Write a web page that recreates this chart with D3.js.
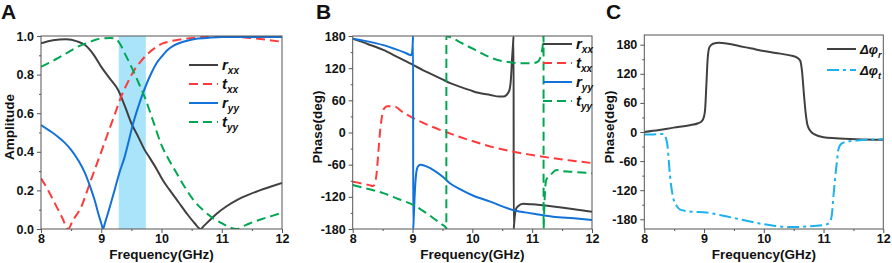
<!DOCTYPE html>
<html><head><meta charset="utf-8">
<script src="https://cdn.jsdelivr.net/npm/d3@7"></script>
<style>
body{margin:0;background:#fff}
svg{display:block}
text{font-family:"Liberation Sans",Arial,sans-serif;font-weight:bold;fill:#111}
</style>
</head><body>
<svg id="chart" width="892" height="263"></svg>
<script>
// ---------- data ----------
const freqTicks = [8, 9, 10, 11, 12];
const freqMinor = [8.5, 9.5, 10.5, 11.5];
const ampTicks = [0, 0.2, 0.4, 0.6, 0.8, 1.0];
const ampMinor = [0.1, 0.3, 0.5, 0.7, 0.9];
const phaseTicks = [-180, -120, -60, 0, 60, 120, 180];
const phaseMinor = [-150, -90, -30, 30, 90, 150];
const shadeBand = [9.29, 9.74];

// Panel A amplitudes [GHz, amplitude]
const ampRxx = [[8,0.962],[8.2,0.978],[8.42,0.983],[8.6,0.972],[8.73,0.953],[8.87,0.905],[9.0,0.84],[9.14,0.78],[9.28,0.72],[9.4,0.63],[9.5,0.548],[9.61,0.48],[9.72,0.41],[9.81,0.366],[9.92,0.31],[10.02,0.254],[10.14,0.20],[10.28,0.14],[10.42,0.08],[10.55,0.03],[10.65,0.0],[10.7,0.015],[10.8,0.045],[10.92,0.08],[11.08,0.118],[11.25,0.15],[11.45,0.178],[11.63,0.2],[11.82,0.22],[12,0.238]];
const ampTxx = [[8,0.263],[8.12,0.2],[8.23,0.133],[8.35,0.06],[8.45,0.0],[8.53,0.045],[8.67,0.116],[8.78,0.21],[8.89,0.306],[9.0,0.40],[9.11,0.496],[9.22,0.59],[9.33,0.685],[9.44,0.76],[9.55,0.824],[9.66,0.87],[9.78,0.91],[9.9,0.94],[10.02,0.962],[10.14,0.972],[10.3,0.982],[10.53,0.99],[10.75,0.997],[10.92,1.0],[11.2,0.997],[11.47,0.99],[11.75,0.98],[12,0.97]];
const ampRyy = [[8,0.539],[8.14,0.51],[8.28,0.478],[8.4,0.445],[8.5,0.41],[8.62,0.355],[8.73,0.29],[8.81,0.225],[8.89,0.15],[8.96,0.07],[9.0,0.03],[9.03,0.0],[9.06,0.03],[9.1,0.07],[9.22,0.20],[9.3,0.29],[9.39,0.375],[9.46,0.46],[9.53,0.548],[9.6,0.62],[9.67,0.685],[9.75,0.75],[9.83,0.807],[9.92,0.86],[10.02,0.90],[10.09,0.925],[10.2,0.95],[10.36,0.97],[10.55,0.985],[10.75,0.99],[11,0.995],[11.5,0.995],[12,0.995]];
const ampTyy = [[8,0.84],[8.14,0.862],[8.28,0.885],[8.42,0.91],[8.56,0.936],[8.67,0.953],[8.78,0.965],[8.92,0.982],[9.06,0.988],[9.15,0.99],[9.25,0.982],[9.32,0.955],[9.39,0.91],[9.47,0.86],[9.55,0.807],[9.63,0.75],[9.72,0.685],[9.86,0.56],[10.0,0.435],[10.12,0.36],[10.25,0.29],[10.39,0.215],[10.53,0.15],[10.7,0.095],[10.86,0.055],[11.0,0.03],[11.12,0.01],[11.25,0.0],[11.36,0.015],[11.47,0.03],[11.7,0.055],[11.97,0.081],[12,0.084]];

// Panel B phases [GHz, deg]
const phRxx = [[8,175],[8.25,165],[8.51,154],[8.76,140],[9.01,126],[9.18,116],[9.35,107],[9.5,99],[9.63,92],[9.8,85],[9.96,79],[10.1,74],[10.3,70],[10.45,67],[10.52,67],[10.57,70],[10.62,79],[10.645,100],[10.665,140],[10.68,165],[10.69,180],[10.691,-180],[10.7,-168],[10.71,-155],[10.73,-143],[10.76,-138],[10.85,-133],[11.0,-134],[11.35,-138],[11.7,-143],[12,-148]];
const phTxx = [[8,-92],[8.15,-95],[8.3,-99],[8.34,-100],[8.37,-95],[8.4,-76],[8.43,-35],[8.46,5],[8.49,30],[8.52,44],[8.58,49],[8.68,49],[8.85,37],[9.01,27],[9.3,12],[9.63,-2],[10.0,-16],[10.3,-26],[10.69,-36],[11.0,-42],[11.35,-48],[11.7,-53],[12,-57]];
const phRyy = [[8,175],[8.25,170],[8.51,163],[8.7,156],[8.85,150],[8.93,146],[8.97,144],[8.99,148],[9.0,158],[9.005,170],[9.01,180],[9.011,-180],[9.02,-160],[9.035,-120],[9.05,-90],[9.07,-70],[9.1,-62],[9.14,-60],[9.25,-64],[9.35,-70],[9.5,-82],[9.63,-95],[9.8,-106],[10.0,-117],[10.3,-129],[10.69,-145],[11.0,-151],[11.35,-157],[11.7,-160],[12,-163]];
const phTyy = [[8,-98],[8.25,-105],[8.51,-113],[8.76,-124],[9.01,-135],[9.2,-148],[9.4,-164],[9.5,-172],[9.56,-178],[9.565,-180],[9.566,180],[9.63,178],[9.8,168],[10.05,154],[10.3,140],[10.5,133],[10.63,131],[10.8,129],[10.97,129],[11.08,131],[11.13,138],[11.16,150],[11.18,166],[11.19,180],[11.191,-180],[11.2,-150],[11.22,-100],[11.24,-87],[11.3,-80],[11.41,-70],[11.5,-72],[11.63,-73],[12,-76]];

// Panel C phase differences [GHz, deg]
const dPhiR = [[8,0],[8.25,4],[8.49,9],[8.76,14],[8.9,18],[8.96,22],[9.0,32],[9.02,50],[9.04,100],[9.06,150],[9.09,175],[9.15,182],[9.25,184],[9.4,182],[9.6,177],[9.8,172],[10.0,167],[10.2,163],[10.44,158],[10.55,154],[10.61,147],[10.64,125],[10.67,80],[10.7,40],[10.73,15],[10.78,2],[10.85,-5],[11.0,-11],[11.2,-13],[11.55,-15],[12,-16]];
const dPhiT = [[8,-5],[8.15,-5],[8.32,-4],[8.36,-12],[8.39,-30],[8.41,-60],[8.43,-90],[8.46,-120],[8.49,-139],[8.54,-152],[8.6,-160],[8.76,-164],[9.04,-166],[9.3,-172],[9.6,-180],[9.99,-190],[10.2,-194],[10.44,-196],[10.7,-195],[11.0,-192],[11.1,-187],[11.14,-170],[11.16,-140],[11.19,-100],[11.22,-65],[11.25,-35],[11.3,-24],[11.39,-20],[11.6,-17],[12,-15]];

// ---------- styles ----------
const C_BLACK = "#404040", C_RED = "#ff3a3a", C_BLUE = "#1272d9", C_GREEN = "#00a651", C_SKY = "#1cb2ee";

const svg = d3.select("#chart");

function panel(opt) {
  const x = d3.scaleLinear().domain([8, 12]).range(opt.xr);
  const y = d3.scaleLinear().domain(opt.yd).range(opt.yr);
  const g = svg.append("g");
  const id = "clip" + opt.letter;
  svg.append("defs").append("clipPath").attr("id", id).append("rect")
    .attr("x", opt.xr[0]).attr("y", opt.yr[1]).attr("width", opt.xr[1] - opt.xr[0]).attr("height", opt.yr[0] - opt.yr[1]);
  const plot = g.append("g").attr("clip-path", `url(#${id})`);
  if (opt.band) {
    plot.append("rect").attr("x", x(opt.band[0])).attr("width", x(opt.band[1]) - x(opt.band[0]))
      .attr("y", opt.yr[1]).attr("height", opt.yr[0] - opt.yr[1]).attr("fill", "#a9e4fa");
  }
  const line = d3.line().x(d => x(d[0])).y(d => y(d[1])).curve(d3.curveMonotoneX);
  opt.series.forEach(s => {
    plot.append("path").datum(s.data).attr("d", line).attr("fill", "none")
      .attr("stroke", s.color).attr("stroke-width", 2).attr("stroke-dasharray", s.dash || null)
      .attr("stroke-linejoin", "round");
  });
  // frame
  g.append("rect").attr("x", opt.xr[0]).attr("y", opt.yr[1]).attr("width", opt.xr[1] - opt.xr[0])
    .attr("height", opt.yr[0] - opt.yr[1]).attr("fill", "none").attr("stroke", "#555").attr("stroke-width", 1);
  // axes
  const fmt = opt.yfmt;
  const ax = g.append("g").attr("transform", `translate(0,${opt.yr[0]})`)
    .call(d3.axisBottom(x).tickValues(freqTicks).tickSize(4).tickPadding(1).tickFormat(d => String(d)));
  const axm = g.append("g").attr("transform", `translate(0,${opt.yr[0]})`)
    .call(d3.axisBottom(x).tickValues(freqMinor).tickSize(2).tickFormat(""));
  const ay = g.append("g").attr("transform", `translate(${opt.xr[0]},0)`)
    .call(d3.axisLeft(y).tickValues(opt.yt).tickSize(4).tickPadding(3).tickFormat(fmt));
  const aym = g.append("g").attr("transform", `translate(${opt.xr[0]},0)`)
    .call(d3.axisLeft(y).tickValues(opt.ym).tickSize(2).tickFormat(""));
  [ax, axm, ay, aym].forEach(a => {
    a.select(".domain").remove();
    a.selectAll("line").attr("stroke", "#555");
    a.selectAll("text").attr("font-size", "12.5px").attr("font-family", null).attr("fill", "#111");
  });
  // titles
  g.append("text").attr("x", (opt.xr[0] + opt.xr[1]) / 2).attr("y", 258.5).attr("text-anchor", "middle")
    .attr("font-size", "13.5px").text("Frequency(GHz)");
  g.append("text").attr("transform", `translate(${opt.ytx},127) rotate(-90)`).attr("text-anchor", "middle")
    .attr("font-size", "13.5px").text(opt.ytitle);
  g.append("text").attr("x", opt.lx).attr("y", 18.5).attr("font-size", "21px").text(opt.letter);
  // legend
  opt.legend.forEach((L, i) => {
    const yy = opt.leg.y0 + i * opt.leg.dy;
    g.append("line").attr("x1", opt.leg.x1).attr("x2", opt.leg.x2).attr("y1", yy).attr("y2", yy)
      .attr("stroke", L.color).attr("stroke-width", 2).attr("stroke-dasharray", L.dash || null);
    const t = g.append("text").attr("x", opt.leg.x2 + 4).attr("y", yy + 5);
    t.append("tspan").attr("font-style", "italic").attr("font-size", opt.leg.fs + "px").text(L.main);
    t.append("tspan").attr("font-style", "italic").attr("font-size", opt.leg.sfs + "px").attr("dy", 4).text(L.sub);
  });
}

panel({
  letter: "A", lx: 1, xr: [41, 282], yr: [229, 36], yd: [0, 1], yt: ampTicks, ym: ampMinor,
  yfmt: d3.format(".1f"), ytitle: "Amplitude", ytx: 14, band: shadeBand,
  series: [
    {data: ampRxx, color: C_BLACK},
    {data: ampTxx, color: C_RED, dash: "9,5"},
    {data: ampRyy, color: C_BLUE},
    {data: ampTyy, color: C_GREEN, dash: "9,5"}
  ],
  leg: {x1: 189, x2: 218, y0: 65, dy: 19, fs: 15, sfs: 10},
  legend: [
    {main: "r", sub: "xx", color: C_BLACK},
    {main: "t", sub: "xx", color: C_RED, dash: "9,5"},
    {main: "r", sub: "yy", color: C_BLUE},
    {main: "t", sub: "yy", color: C_GREEN, dash: "9,5"}
  ]
});

panel({
  letter: "B", lx: 316, xr: [352.7, 592], yr: [229, 36], yd: [-180, 180], yt: phaseTicks, ym: phaseMinor,
  yfmt: d => String(d), ytitle: "Phase(deg)", ytx: 322,
  series: [
    {data: phRxx, color: C_BLACK},
    {data: phTxx, color: C_RED, dash: "9,5"},
    {data: phRyy, color: C_BLUE},
    {data: phTyy, color: C_GREEN, dash: "9,5"}
  ],
  leg: {x1: 543, x2: 572, y0: 44, dy: 19, fs: 15, sfs: 10},
  legend: [
    {main: "r", sub: "xx", color: C_BLACK},
    {main: "t", sub: "xx", color: C_RED, dash: "9,5"},
    {main: "r", sub: "yy", color: C_BLUE},
    {main: "t", sub: "yy", color: C_GREEN, dash: "9,5"}
  ]
});

panel({
  letter: "C", lx: 606, xr: [644.3, 883.3], yr: [229, 35], yd: [-200, 200], yt: phaseTicks, ym: phaseMinor,
  yfmt: d => String(d), ytitle: "Phase(deg)", ytx: 614,
  series: [
    {data: dPhiR, color: C_BLACK},
    {data: dPhiT, color: C_SKY, dash: "12,4,3,4"}
  ],
  leg: {x1: 827, x2: 856, y0: 49, dy: 21, fs: 13, sfs: 9},
  legend: [
    {main: "Δφ", sub: "r", color: C_BLACK},
    {main: "Δφ", sub: "t", color: C_SKY, dash: "12,4,3,4"}
  ]
});
</script>
</body></html>
